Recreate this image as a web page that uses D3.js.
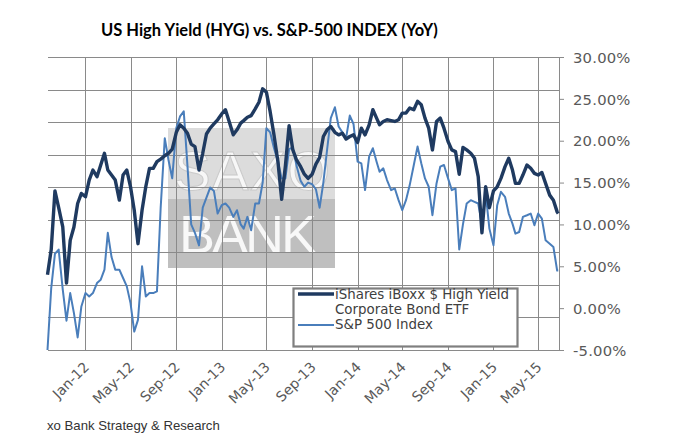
<!DOCTYPE html>
<html>
<head>
<meta charset="utf-8">
<script src="https://cdn.jsdelivr.net/npm/d3@7"></script>
<style>
  html, body { margin: 0; padding: 0; background: #fff; }
  svg { display: block; }
</style>
</head>
<body>
<svg id="chart" width="675" height="444"></svg>
<script>
// ---------------- DATA ----------------
const dates = [
"2011-09-21","2011-10-01","2011-10-11","2011-10-21","2011-11-01","2011-11-11","2011-11-21","2011-12-01","2011-12-11","2011-12-21",
"2012-01-01","2012-01-11","2012-01-21","2012-02-01","2012-02-11","2012-02-21","2012-03-01","2012-03-11","2012-03-21",
"2012-04-01","2012-04-11","2012-04-21","2012-05-01","2012-05-11","2012-05-21","2012-06-01","2012-06-11","2012-06-21",
"2012-07-01","2012-07-11","2012-07-21","2012-08-01","2012-08-11","2012-08-21","2012-09-01","2012-09-11","2012-09-21",
"2012-10-01","2012-10-11","2012-10-21","2012-11-01","2012-11-11","2012-11-21","2012-12-01","2012-12-11","2012-12-21",
"2013-01-01","2013-01-11","2013-01-21","2013-02-01","2013-02-11","2013-02-21","2013-03-01","2013-03-11","2013-03-21",
"2013-04-01","2013-04-11","2013-04-21","2013-05-01","2013-05-11","2013-05-21","2013-06-01","2013-06-11","2013-06-21",
"2013-07-01","2013-07-11","2013-07-21","2013-08-01","2013-08-11","2013-08-21","2013-09-01","2013-09-11","2013-09-21",
"2013-10-01","2013-10-11","2013-10-21","2013-11-01","2013-11-11","2013-11-21","2013-12-01","2013-12-11","2013-12-21",
"2014-01-01","2014-01-11","2014-01-21","2014-02-01","2014-02-11","2014-02-21","2014-03-01","2014-03-11","2014-03-21",
"2014-04-01","2014-04-11","2014-04-21","2014-05-01","2014-05-11","2014-05-21","2014-06-01","2014-06-11","2014-06-21",
"2014-07-01","2014-07-11","2014-07-21","2014-08-01","2014-08-11","2014-08-21","2014-09-01","2014-09-11","2014-09-21",
"2014-10-01","2014-10-11","2014-10-21","2014-11-01","2014-11-11","2014-11-21","2014-12-01","2014-12-11","2014-12-21",
"2015-01-01","2015-01-11","2015-01-21","2015-02-01","2015-02-11","2015-02-21","2015-03-01","2015-03-11","2015-03-21",
"2015-04-01","2015-04-11","2015-04-21","2015-05-01","2015-05-11","2015-05-21","2015-06-01","2015-06-11","2015-06-21","2015-06-24"
];

// iShares iBoxx $ High Yield Corporate Bond ETF, YoY %
const hyg = [
4.0,7.0,14.0,12.0,9.7,3.0,8.1,9.7,12.5,13.7,
13.3,15.3,16.5,15.7,17.1,18.5,16.5,15.9,15.3,
12.9,15.9,16.5,14.5,11.7,7.7,11.7,14.5,16.7,
16.7,17.5,17.8,18.2,18.5,19.0,21.0,21.9,21.5,
20.9,19.6,19.3,16.5,18.5,20.8,21.5,22.0,22.5,
23.2,23.7,22.3,20.7,21.3,22.1,22.4,22.8,23.0,
23.8,24.6,26.2,25.8,23.5,20.8,17.5,13.0,17.0,
21.8,18.9,17.7,16.9,16.0,15.5,16.0,17.2,18.0,
20.5,21.3,21.7,21.0,20.7,20.9,20.2,20.5,20.7,
19.8,21.5,20.7,21.9,23.7,22.7,21.9,22.3,22.5,
22.4,22.3,22.5,23.3,23.3,23.9,23.7,24.7,24.3,
22.7,21.5,18.9,22.3,22.7,21.5,19.9,18.9,18.7,
16.0,19.2,18.9,18.5,17.9,15.7,9.0,14.5,12.0,
14.0,14.5,15.5,16.9,17.9,16.5,14.9,14.9,15.9,
17.1,16.7,16.1,15.9,16.2,14.9,13.5,12.9,11.5,11.3
];

// S&P 500 Index, YoY %
const spx = [
-5.0,2.4,6.5,7.0,2.2,-1.5,1.8,-0.6,-3.5,0.2,
1.8,1.4,1.8,3.0,3.4,4.6,9.0,6.1,4.6,
4.6,3.6,2.6,0.6,-2.8,-1.4,5.0,1.4,1.8,
1.8,2.0,12.0,20.3,17.7,15.5,21.5,22.9,23.5,
17.0,10.0,9.0,7.5,12.0,13.2,14.4,14.0,11.3,
12.3,12.5,12.0,10.9,11.7,10.0,9.5,10.9,9.3,
12.5,12.5,15.0,21.5,21.0,19.2,17.5,15.5,15.5,
19.0,19.2,17.0,15.2,14.5,15.0,14.8,14.2,12.0,
15.0,18.9,22.7,24.0,21.7,21.0,20.3,23.0,22.0,
17.5,17.3,14.1,18.1,19.1,17.5,16.3,16.7,15.3,
14.1,14.3,12.9,11.7,12.9,14.7,17.1,19.3,17.3,
15.5,14.5,11.1,14.9,16.9,17.1,15.5,14.1,14.3,
7.0,10.0,12.5,12.9,12.7,12.5,10.0,13.7,9.5,
7.5,12.3,13.9,13.3,11.3,10.1,8.9,9.1,10.9,
11.1,11.3,9.9,11.3,10.7,8.1,7.7,7.3,4.5,4.5
];

const seriesNames = ["iShares iBoxx $ High Yield", "Corporate Bond ETF", "S&P 500 Index"];
const yTicks = [-5, 0, 5, 10, 15, 20, 25, 30];
const xTickDates = ["2012-01-01","2012-05-01","2012-09-01","2013-01-01","2013-05-01","2013-09-01","2014-01-01","2014-05-01","2014-09-01","2015-01-01","2015-05-01"];
const xTickLabels = ["Jan-12","May-12","Sep-12","Jan-13","May-13","Sep-13","Jan-14","May-14","Sep-14","Jan-15","May-15"];
const xDomain = ["2011-09-21", "2015-06-26"];
const titleText = "US High Yield (HYG) vs. S&P-500 INDEX (YoY)";
const footerText = "xo Bank Strategy & Research";

// ---------------- CHART ----------------
const parse = d3.timeParse("%Y-%m-%d");
const svg = d3.select("#chart");
const W = 675, H = 444;
const plot = { left: 47.5, right: 559, top: 57, bottom: 350 };

svg.append("rect").attr("width", W).attr("height", H).attr("fill", "#fff");

const x = d3.scaleTime().domain(xDomain.map(parse)).range([plot.left, plot.right]);
const y = d3.scaleLinear().domain([-5, 30]).range([plot.bottom, plot.top]);
// hidden primary axis that drives the horizontal gridlines (9 divisions)
const gy = d3.scaleLinear().domain([0, 9]).range([plot.bottom, plot.top]);

// watermark
const wm = svg.append("g").attr("opacity", 0.85);
wm.append("rect").attr("x", 168).attr("y", 128).attr("width", 167).attr("height", 71).attr("fill", "#d6d6d6");
wm.append("rect").attr("x", 168).attr("y", 199).attr("width", 167).attr("height", 69).attr("fill", "#b5b5b5");
wm.append("text").attr("x", 174).attr("y", 190).attr("textLength", 156).attr("lengthAdjust", "spacing")
  .attr("font-family", "Liberation Sans, Arial, sans-serif").attr("font-size", 55)
  .attr("fill", "#f6f6f6").attr("stroke", "#c2c2c2").attr("stroke-width", 1).text("SAXO");
wm.append("text").attr("x", 179).attr("y", 253).attr("textLength", 138).attr("lengthAdjust", "spacing")
  .attr("font-family", "Liberation Sans, Arial, sans-serif").attr("font-size", 54)
  .attr("fill", "#f7f7f7").text("BANK");

// gridlines
const grid = svg.append("g").attr("stroke", "#8a8a8a").attr("stroke-width", 1).attr("shape-rendering", "crispEdges");
grid.selectAll("line.h").data(d3.range(10)).join("line")
  .attr("x1", plot.left).attr("x2", plot.right)
  .attr("y1", d => Math.round(gy(d)) + 0.5).attr("y2", d => Math.round(gy(d)) + 0.5);
grid.selectAll("line.v").data(xTickDates).join("line")
  .attr("x1", d => Math.round(x(parse(d))) + 0.5).attr("x2", d => Math.round(x(parse(d))) + 0.5)
  .attr("y1", plot.top).attr("y2", plot.bottom);

// right y axis
const yAxis = d3.axisRight(y).tickValues(yTicks).tickSize(5).tickSizeOuter(0)
  .tickFormat(d => d.toFixed(2) + "%");
const ya = svg.append("g").attr("transform", `translate(${plot.right},0)`).call(yAxis);
ya.select(".domain").attr("stroke", "#8a8a8a");
ya.selectAll(".tick line").attr("stroke", "#8a8a8a");
ya.selectAll(".tick text").attr("x", 14).attr("dy", "0.35em")
  .attr("font-family", "DejaVu Sans, Verdana, sans-serif").attr("font-size", 14.8)
  .attr("letter-spacing", 0.2).attr("fill", "#595959");

// bottom x axis labels
const xAxis = d3.axisBottom(x).tickValues(xTickDates.map(parse)).tickSize(0)
  .tickFormat((d, i) => xTickLabels[i]);
const xa = svg.append("g").attr("transform", `translate(0,${plot.bottom})`).call(xAxis);
xa.select(".domain").remove();
xa.selectAll(".tick text")
  .attr("font-family", "DejaVu Sans, Verdana, sans-serif").attr("font-size", 14)
  .attr("fill", "#595959").attr("text-anchor", "end")
  .attr("x", 0).attr("y", 0).attr("dy", 0)
  .attr("transform", "translate(4,18) rotate(-45)");

// lines
const line = d3.line().x(d => x(d.date)).y(d => y(d.v));
const spxData = dates.map((d, i) => ({ date: parse(d), v: spx[i] }));
const hygData = dates.map((d, i) => ({ date: parse(d), v: hyg[i] }));
svg.append("path").datum(spxData).attr("d", line).attr("fill", "none")
  .attr("stroke", "#4a7ebb").attr("stroke-width", 2).attr("stroke-linejoin", "round");
svg.append("path").datum(hygData).attr("d", line).attr("fill", "none")
  .attr("stroke", "#1f3a60").attr("stroke-width", 3.4).attr("stroke-linejoin", "round");

// legend
const lg = svg.append("g");
lg.append("rect").attr("x", 293.5).attr("y", 288.5).attr("width", 224).attr("height", 58)
  .attr("fill", "#fff").attr("stroke", "#7f7f7f").attr("stroke-width", 2.2);
lg.append("line").attr("x1", 298).attr("x2", 334).attr("y1", 294).attr("y2", 294)
  .attr("stroke", "#1f3a60").attr("stroke-width", 3.4);
lg.append("line").attr("x1", 298).attr("x2", 334).attr("y1", 325).attr("y2", 325)
  .attr("stroke", "#4a7ebb").attr("stroke-width", 2);
lg.selectAll("text").data(seriesNames).join("text")
  .attr("x", 335).attr("y", (d, i) => 298.5 + i * 15.3)
  .attr("font-family", "DejaVu Sans, Verdana, sans-serif").attr("font-size", 13.4)
  .attr("fill", "#404040").text(d => d);

// title
const title = svg.append("text").attr("x", 101).attr("y", 36)
  .attr("font-family", "Lato, sans-serif").attr("font-weight", "bold").attr("font-size", 16)
  .attr("fill", "#000").text(titleText);
const tw = title.node().getComputedTextLength();
title.attr("font-size", 16 * 337 / tw);

// footer
const foot = svg.append("text").attr("x", 47).attr("y", 430)
  .attr("font-family", "Liberation Sans, Arial, sans-serif").attr("font-size", 14)
  .attr("fill", "#333").text(footerText);
const fw = foot.node().getComputedTextLength();
foot.attr("font-size", 14 * 173 / fw);
</script>
</body>
</html>
